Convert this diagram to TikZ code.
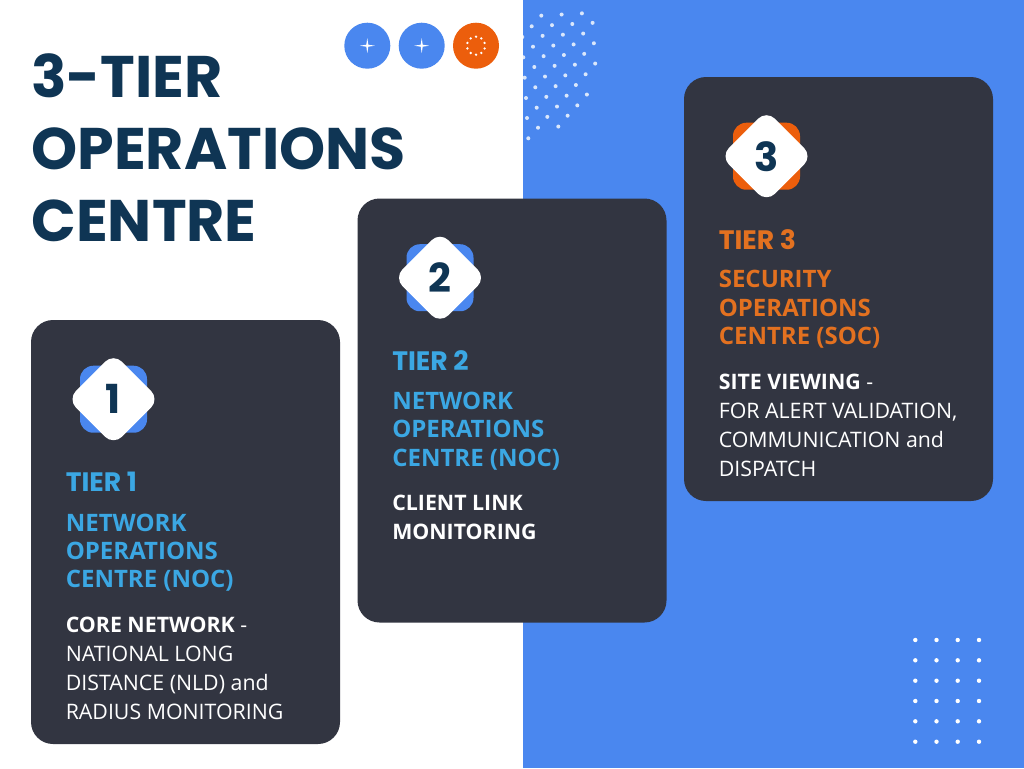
\documentclass[tikz,border=0pt]{standalone}
\usepackage{fontspec}
\setmainfont{Open Sans}
\newfontfamily\headfont{Poppins}
\usetikzlibrary{positioning}

\definecolor{panelblue}{HTML}{4A87EF}
\definecolor{carddark}{HTML}{323541}
\definecolor{titlenavy}{HTML}{0F3554}
\definecolor{dotorange}{HTML}{EC5E0C}
\definecolor{tierblue}{HTML}{3BA7E3}
\definecolor{tierorange}{HTML}{E37120}

\tikzset{
	card/.style={fill=carddark, rounded corners=16.5pt, minimum width=231.75pt, minimum height=318pt, inner sep=0pt, outer sep=0pt},
	backbox/.style={rounded corners=10pt, minimum size=50.25pt, inner sep=0pt, outer sep=0pt},
	frontbox/.style={fill=white, rotate=45, rounded corners=9pt, minimum size=48.75pt, inner sep=0pt, outer sep=0pt},
	digit/.style={text=titlenavy, inner sep=0pt, font=\headfont\fontsize{30}{30}\selectfont\bfseries},
	topdisc/.style={circle, minimum size=34.5pt, inner sep=0pt, outer sep=0pt},
	titleline/.style={anchor=base west, inner sep=0pt, text=titlenavy, font=\headfont\fontsize{44}{44}\selectfont\bfseries},
	tierhead/.style={inner sep=0pt, font=\headfont\fontsize{20}{24}\selectfont\bfseries},
	tiername/.style={inner sep=0pt, align=left, font=\fontsize{18}{21.2}\selectfont\bfseries},
	tierdesc/.style={inner sep=0pt, align=left, text=white, font=\fontsize{16}{21.75}\selectfont},
	griddot/.style={white},
	softdot/.style={white, opacity=.8}
}

\begin{document}
\begin{tikzpicture}[x=0.75pt,y=-0.75pt]
	\useasboundingbox (0,0) rectangle (1024,768);
	\fill[white] (0,0) rectangle (1024,768);
	\fill[panelblue] (523,0) rectangle (1024,768);

	% dots top
	\begin{scope}
		\clip (523,0) rectangle (1024,768);
		\foreach \sx/\sy/\n in {521.0/16.8/3, 531.7/26.3/3, 522.3/37.0/3, 533.0/46.7/3, 523.3/57.3/3, 534.3/67.0/3, 524.7/77.7/3, 535.3/87.3/2, 526.0/98.0/3, 536.7/107.7/2, 527.0/118.0/2, 538.0/127.7/1, 528.3/138.3/0}
			\foreach \i in {0,...,\n}
				\fill[softdot] (\sx+\i*20.3,\sy-\i*1.15) circle (2);
	\end{scope}
	% dots bottom
	\foreach \dx in {915.3,936.5,957.7,979}
		\foreach \dy in {640,660.3,680.7,701,721.3,741.7}
			\fill[griddot] (\dx,\dy) circle (2.2);

	% discs
	\node[topdisc, fill=panelblue] (D1) at (367.3,45.7) {};
	\node[topdisc, fill=panelblue] (D2) at (421.7,45.7) {};
	\node[topdisc, fill=dotorange] (D3) at (476,45.7) {};
	\foreach \d in {D1,D2}
		\fill[white] (\d.center) +(-7.5,0) -- +(-1,-1) -- +(0,-7.5) -- +(1,-1) -- +(7.5,0) -- +(1,1) -- +(0,7.5) -- +(-1,1) -- cycle;
	\foreach \a in {90,126,...,414}
		\fill[white] (D3.center) +(\a:9) circle (1.3);

	% title
	\node[titleline] (L1) at (31.2,97) {3-TIER};
	\node[titleline] (L2) at (31.2,169) {OPERATIONS};
	\node[titleline] (L3) at (31.2,241) {CENTRE};

	% tier 1
	\node[card] (C1) at (185.5,532) {};
	\node[backbox, fill=panelblue] (B1) [below right=34.3pt and 36.75pt of C1.north west] {};
	\node[frontbox] (F1) at (B1) {};
	\node[digit] (N1) at (B1) {1};
	\node[tierhead, text=tierblue] (T1) [below right=114pt and 25.9pt of C1.north west] {TIER 1};
	\node[tiername, text=tierblue] (S1) [below right=145pt and 25.9pt of C1.north west] {NETWORK\\OPERATIONS\\CENTRE (NOC)};
	\node[tierdesc] (W1) [below right=222.4pt and 25.9pt of C1.north west] {\textbf{CORE NETWORK} -\\NATIONAL LONG\\DISTANCE (NLD) and\\RADIUS MONITORING};

	% tier 2
	\node[card] (C2) at (512,410.5) {};
	\node[backbox, fill=panelblue] (B2) [below right=34.3pt and 36.75pt of C2.north west] {};
	\node[frontbox] (F2) at (B2) {};
	\node[digit] (N2) at (B2) {2};
	\node[tierhead, text=tierblue] (T2) [below right=114pt and 25.9pt of C2.north west] {TIER 2};
	\node[tiername, text=tierblue] (S2) [below right=145pt and 25.9pt of C2.north west] {NETWORK\\OPERATIONS\\CENTRE (NOC)};
	\node[tierdesc] (W2) [below right=222.4pt and 25.9pt of C2.north west] {\textbf{CLIENT LINK}\\\textbf{MONITORING}};

	% tier 3
	\node[card] (C3) at (838.5,289) {};
	\node[backbox, fill=dotorange] (B3) [below right=34.3pt and 36.75pt of C3.north west] {};
	\node[frontbox] (F3) at (B3) {};
	\node[digit] (N3) at (B3) {3};
	\node[tierhead, text=tierorange] (T3) [below right=114pt and 25.9pt of C3.north west] {TIER 3};
	\node[tiername, text=tierorange] (S3) [below right=145pt and 25.9pt of C3.north west] {SECURITY\\OPERATIONS\\CENTRE (SOC)};
	\node[tierdesc] (W3) [below right=222.4pt and 25.9pt of C3.north west] {\textbf{SITE VIEWING} -\\FOR ALERT VALIDATION,\\COMMUNICATION and\\DISPATCH};
\end{tikzpicture}
\end{document}
